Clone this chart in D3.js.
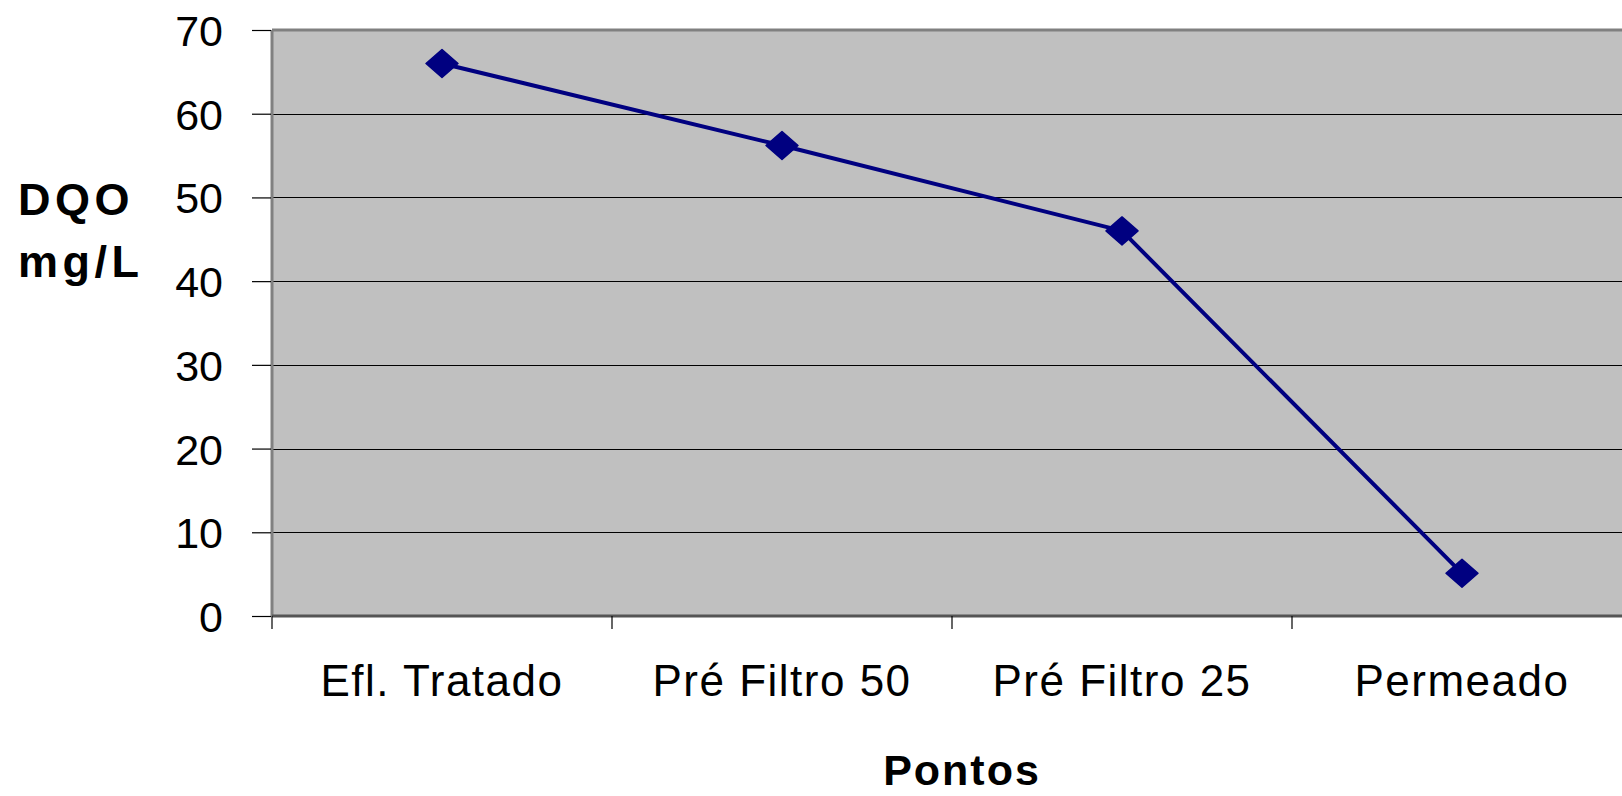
<!DOCTYPE html>
<html>
<head>
<meta charset="utf-8">
<script src="https://cdn.jsdelivr.net/npm/d3@7"></script>
<style>
  html, body { margin: 0; padding: 0; background: #ffffff; overflow: hidden; }
  svg { display: block; font-family: "Liberation Sans", Arial, sans-serif; }
</style>
</head>
<body>
<svg id="chart" width="1622" height="796"></svg>
<script>
const categories = ["Efl. Tratado", "Pré Filtro 50", "Pré Filtro 25", "Permeado"];
const dqoValues = [66, 56.2, 46, 5.1];
const yTicks = [0, 10, 20, 30, 40, 50, 60, 70];
const yTitleLines = ["DQO", "mg/L"];
const xTitle = "Pontos";

const svg = d3.select("#chart");
const plot = { left: 272, right: 1632, top: 30, bottom: 616 };

const x = d3.scaleBand().domain(categories).range([plot.left, plot.right]).padding(0);
const y = d3.scaleLinear().domain([0, 70]).range([plot.bottom, plot.top]);

// plot background
svg.append("rect")
  .attr("x", plot.left).attr("y", plot.top)
  .attr("width", plot.right - plot.left).attr("height", plot.bottom - plot.top)
  .attr("fill", "#c0c0c0");

// gridlines
svg.append("g").selectAll("line").data(yTicks.filter(d => d > 0 && d < 70)).join("line")
  .attr("x1", plot.left).attr("x2", plot.right)
  .attr("y1", d => Math.round(y(d)) + 0.5).attr("y2", d => Math.round(y(d)) + 0.5)
  .attr("stroke", "#000").attr("stroke-width", 1.2);

// plot border
svg.append("line").attr("x1", plot.left).attr("x2", plot.right)
  .attr("y1", plot.top).attr("y2", plot.top).attr("stroke", "#808080").attr("stroke-width", 3);
svg.append("line").attr("x1", plot.left).attr("x2", plot.left)
  .attr("y1", plot.top).attr("y2", plot.bottom).attr("stroke", "#808080").attr("stroke-width", 3);
svg.append("line").attr("x1", plot.left).attr("x2", plot.right)
  .attr("y1", plot.bottom).attr("y2", plot.bottom).attr("stroke", "#555").attr("stroke-width", 3);

// y axis
const yAxis = svg.append("g")
  .attr("transform", `translate(${plot.left - 1},0)`)
  .call(d3.axisLeft(y).tickValues(yTicks).tickSize(19).tickPadding(29).tickFormat(d3.format("d")));
yAxis.select(".domain").remove();
yAxis.selectAll(".tick line").attr("stroke", "#000").attr("stroke-width", 1.2);
yAxis.selectAll(".tick text")
  .attr("fill", "#000").attr("font-size", 43).attr("font-family", "'Liberation Sans', Arial, sans-serif")
  .attr("dy", "0.36em");

// x axis ticks at band boundaries
const bounds = categories.map(c => x(c));
svg.append("g").selectAll("line").data(bounds).join("line")
  .attr("x1", d => d).attr("x2", d => d)
  .attr("y1", plot.bottom).attr("y2", plot.bottom + 13)
  .attr("stroke", "#000").attr("stroke-width", 1.2);

const xAxis = svg.append("g")
  .attr("transform", `translate(0,${plot.bottom})`)
  .call(d3.axisBottom(x).tickSize(0).tickPadding(0));
xAxis.select(".domain").remove();
xAxis.selectAll(".tick text")
  .attr("fill", "#000").attr("font-size", 44).attr("font-family", "'Liberation Sans', Arial, sans-serif")
  .attr("letter-spacing", "1.5px")
  .attr("dy", null).attr("y", 80);

// line
const line = d3.line()
  .x((d, i) => x(categories[i]) + x.bandwidth() / 2)
  .y(d => y(d));
svg.append("path").datum(dqoValues)
  .attr("d", line).attr("fill", "none")
  .attr("stroke", "#000080").attr("stroke-width", 4).attr("stroke-linejoin", "round");

// diamond markers
svg.append("g").selectAll("path").data(dqoValues).join("path")
  .attr("transform", (d, i) => `translate(${x(categories[i]) + x.bandwidth() / 2},${y(d)})`)
  .attr("d", "M0,-14 L16,0 L0,14 L-16,0 Z")
  .attr("fill", "#000080").attr("stroke", "#000080").attr("stroke-width", 1.5).attr("stroke-linejoin", "round");

// y title
svg.append("text")
  .attr("x", 18).attr("y", 215)
  .attr("font-size", 45).attr("font-weight", "bold").attr("letter-spacing", "4.5px")
  .selectAll("tspan").data(yTitleLines).join("tspan")
  .attr("x", 18).attr("dy", (d, i) => i === 0 ? 0 : 62)
  .text(d => d);

// x title
svg.append("text")
  .attr("x", 962).attr("y", 785)
  .attr("text-anchor", "middle")
  .attr("font-size", 43).attr("font-weight", "bold").attr("letter-spacing", "2px")
  .text(xTitle);
</script>
</body>
</html>
